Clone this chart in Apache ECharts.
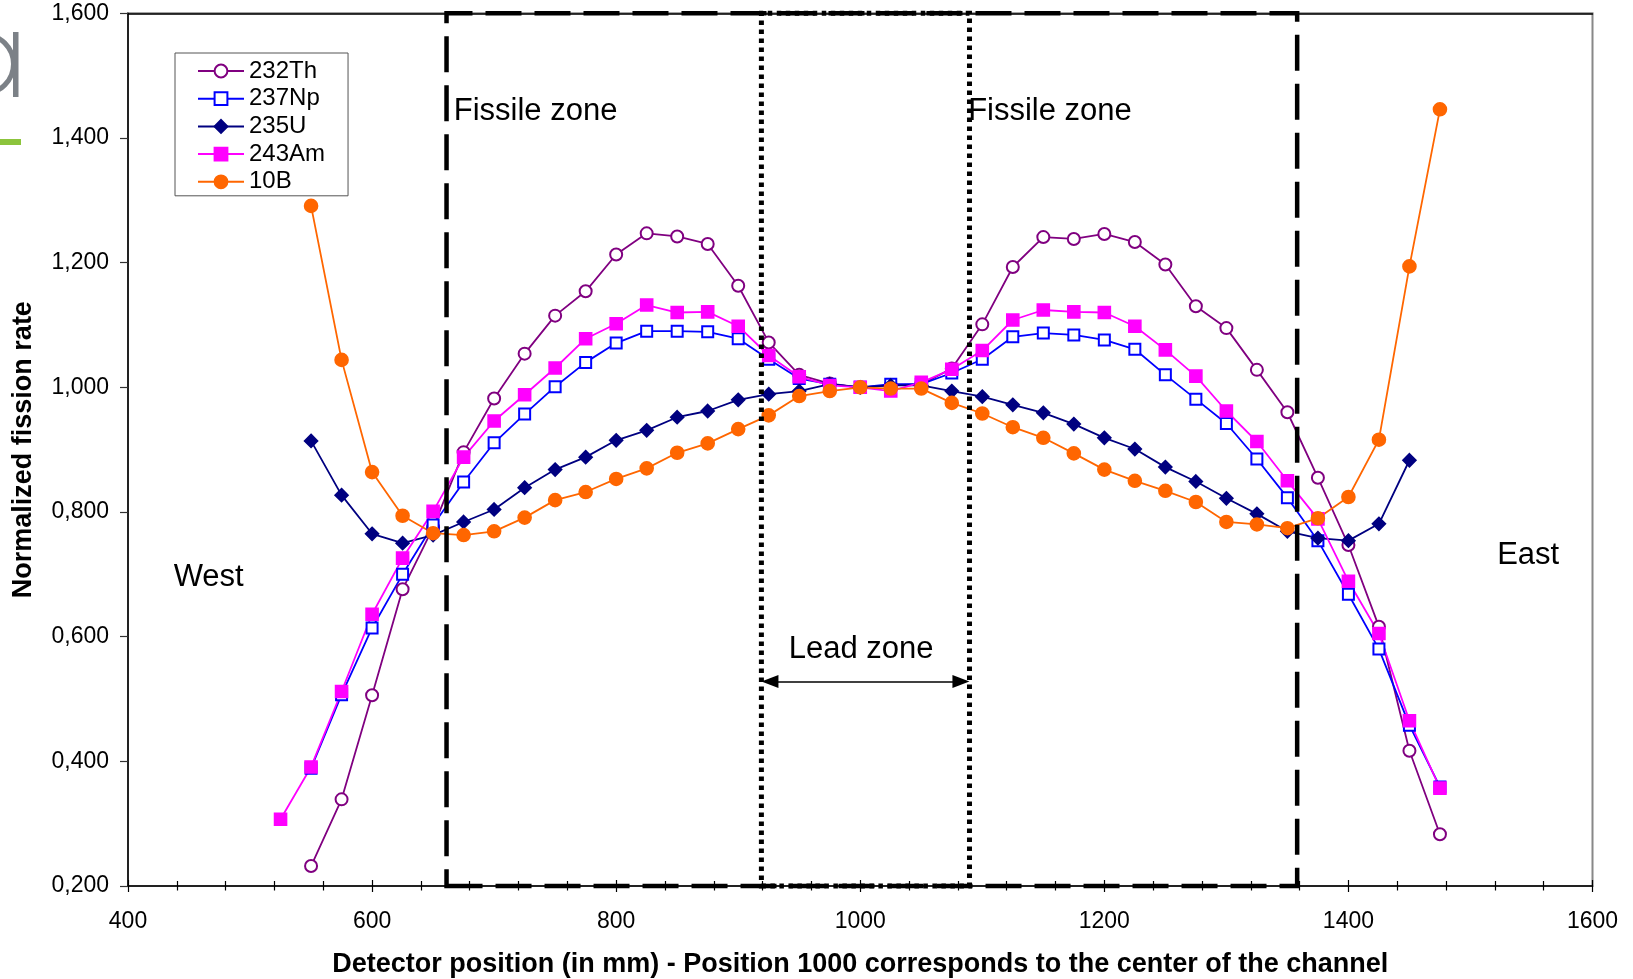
<!DOCTYPE html>
<html>
<head>
<meta charset="utf-8">
<title>Normalized fission rate</title>
<script src="https://cdn.jsdelivr.net/npm/echarts@6/dist/echarts.min.js"></script>
<style>
  html, body { margin: 0; padding: 0; background: #ffffff; }
  #chart { width: 1633px; height: 979px; }
</style>
</head>
<body>
<div id="chart"></div>
<script>
// Detector positions along the channel (mm)
const positions = [525, 550, 575, 600, 625, 650, 675, 700, 725, 750, 775, 800, 825, 850, 875,
  900, 925, 950, 975, 1000, 1025, 1050, 1075, 1100, 1125, 1150, 1175, 1200, 1225, 1250, 1275,
  1300, 1325, 1350, 1375, 1400, 1425, 1450, 1475];

// Normalized fission rates per detector type (null = no measurement)
const th232 = [null, 0.232, 0.339, 0.506, 0.676, 0.775, 0.896, 0.982, 1.054, 1.115, 1.154, 1.213,
  1.247, 1.242, 1.230, 1.163, 1.072, 1.020, 1.006, 1.000, 1.003, 1.005, 1.030, 1.101, 1.193, 1.241,
  1.238, 1.246, 1.233, 1.197, 1.130, 1.095, 1.028, 0.960, 0.855, 0.747, 0.616, 0.417, 0.283];
const np237 = [null, 0.389, 0.507, 0.614, 0.700, 0.779, 0.848, 0.911, 0.957, 1.001, 1.040, 1.071,
  1.090, 1.090, 1.089, 1.078, 1.045, 1.014, 1.005, 1.000, 1.005, 1.005, 1.023, 1.045, 1.081, 1.087,
  1.084, 1.076, 1.061, 1.020, 0.981, 0.942, 0.885, 0.823, 0.754, 0.668, 0.580, 0.458, 0.359];
const u235 = [null, 0.914, 0.827, 0.765, 0.750, 0.763, 0.784, 0.804, 0.839, 0.868, 0.888, 0.915,
  0.931, 0.952, 0.962, 0.980, 0.989, 0.994, 1.005, 1.000, 1.003, 1.003, 0.994, 0.985, 0.972, 0.959,
  0.941, 0.919, 0.901, 0.872, 0.849, 0.822, 0.797, 0.769, 0.758, 0.754, 0.781, 0.883, null];
const am243 = [0.307, 0.391, 0.512, 0.636, 0.726, 0.801, 0.888, 0.946, 0.988, 1.031, 1.078, 1.102,
  1.132, 1.120, 1.121, 1.098, 1.051, 1.017, 1.003, 1.000, 0.994, 1.008, 1.029, 1.059, 1.108, 1.124,
  1.121, 1.120, 1.098, 1.060, 1.018, 0.962, 0.913, 0.850, 0.789, 0.689, 0.605, 0.465, 0.357];
const b10 = [null, 1.291, 1.044, 0.864, 0.794, 0.766, 0.763, 0.769, 0.791, 0.819, 0.832, 0.853,
  0.870, 0.895, 0.910, 0.933, 0.955, 0.986, 0.994, 1.000, 0.998, 0.998, 0.975, 0.958, 0.936, 0.919,
  0.894, 0.868, 0.850, 0.834, 0.816, 0.784, 0.780, 0.774, 0.790, 0.824, 0.916, 1.194, 1.446];

const seriesNames = ['232Th', '237Np', '235U', '243Am', '10B'];

// Axis ranges
const xMin = 400, xMax = 1600, xStep = 200;
const yMin = 0.2, yMax = 1.6, yStep = 0.2;

// Zone boundaries (mm)
const fissileZone = [661, 1358];
const leadZone = [919, 1089.5];

// Text annotations: [label, x (mm), y (rate)]
const zoneLabels = [
  ['Fissile zone', 666.5, 1.443],
  ['Fissile zone', 1088, 1.443],
  ['Lead zone', 941, 0.580],
  ['West', 437, 0.695],
  ['East', 1521.5, 0.730]
];
const arrowY = 0.528;

const FONT = "'Liberation Sans', Arial, Helvetica, sans-serif";

function pairs(values) {
  const out = [];
  values.forEach((v, i) => { if (v !== null) out.push([positions[i], v]); });
  return out;
}

function lineSeries(name, values, color, symbol, size) {
  return {
    name: name,
    type: 'line',
    data: pairs(values),
    symbol: symbol,
    symbolSize: size,
    showAllSymbol: true,
    lineStyle: { color: color, width: 1.8 },
    itemStyle: { color: color, borderColor: color, borderWidth: 1.6 },
    emphasis: { disabled: true },
    z: 2
  };
}

const chart = echarts.init(document.getElementById('chart'), null, { renderer: 'canvas' });

const axisBlack = { color: '#000', width: 1.5 };

const option = {
  animation: false,
  backgroundColor: '#ffffff',
  textStyle: { fontFamily: FONT, color: '#000' },
  grid: {
    left: 128, right: 40.5, top: 13.3, bottom: 93,
    containLabel: false,
    outerBoundsMode: 'none',
    show: true,
    borderColor: '#888888',
    borderWidth: 2,
    backgroundColor: 'transparent'
  },
  legend: {
    data: seriesNames,
    orient: 'vertical',
    left: 175,
    top: 53,
    itemWidth: 46,
    itemHeight: 16,
    itemGap: 3.7,
    padding: [6, 23, 2, 22],
    borderColor: '#555555',
    borderWidth: 1,
    backgroundColor: '#ffffff',
    selectedMode: false,
    textStyle: { fontFamily: FONT, fontSize: 24, color: '#000' }
  },
  xAxis: [
    {
      type: 'value', min: xMin, max: xMax, interval: xStep, position: 'bottom',
      name: 'Detector position (in mm) - Position 1000 corresponds to the center of the channel',
      nameLocation: 'middle', nameGap: 65, nameMoveOverlap: false,
      nameTextStyle: { fontFamily: FONT, fontSize: 27, fontWeight: 'bold', color: '#000' },
      axisLine: { show: true, onZero: false, lineStyle: axisBlack },
      axisTick: { show: true, inside: false, length: 6, lineStyle: { color: '#000', width: 1.2 } },
      minorTick: { show: true, splitNumber: 5, length: 4.5, lineStyle: { color: '#000', width: 1.2 } },
      axisLabel: { margin: 24, fontFamily: FONT, fontSize: 23, color: '#000', formatter: v => String(v) },
      splitLine: { show: false },
      minorSplitLine: { show: false }
    },
    {
      type: 'value', min: xMin, max: xMax, interval: xStep, position: 'bottom',
      axisLine: { show: false, onZero: false },
      axisTick: { show: true, inside: true, length: 6, lineStyle: { color: '#000', width: 1.2 } },
      minorTick: { show: true, splitNumber: 5, length: 5, lineStyle: { color: '#000', width: 1.2 } },
      axisLabel: { show: false },
      splitLine: { show: false }
    },
    {
      type: 'value', min: xMin, max: xMax, interval: xStep, position: 'top',
      axisLine: { show: true, onZero: false, lineStyle: axisBlack },
      axisTick: { show: false },
      axisLabel: { show: false },
      splitLine: { show: false }
    }
  ],
  yAxis: {
    type: 'value', min: yMin, max: yMax, interval: yStep,
    name: 'Normalized fission rate',
    nameLocation: 'middle', nameGap: 91, nameMoveOverlap: false,
    nameTextStyle: { fontFamily: FONT, fontSize: 27, fontWeight: 'bold', color: '#000' },
    axisLine: { show: true, onZero: false, lineStyle: axisBlack },
    axisTick: { show: true, inside: false, length: 8, lineStyle: { color: '#333', width: 1.2 } },
    axisLabel: {
      margin: 19, fontFamily: FONT, fontSize: 23, color: '#000',
      formatter: v => v.toFixed(3).replace('.', ',')
    },
    splitLine: { show: false }
  },
  graphic: [
    { type: 'circle', shape: { cx: -16, cy: 64, r: 29.5 },
      style: { fill: 'none', stroke: '#7c8187', lineWidth: 5 }, silent: true },
    { type: 'rect', shape: { x: 13, y: 32, width: 5.5, height: 65 },
      style: { fill: '#7c8187' }, silent: true },
    { type: 'rect', shape: { x: 0, y: 139, width: 21, height: 6 },
      style: { fill: '#8cc43c' }, silent: true }
  ],
  series: [
    lineSeries(seriesNames[0], th232, '#800080', 'emptyCircle', 12),
    lineSeries(seriesNames[1], np237, '#0000ff', 'emptyRect', 11),
    lineSeries(seriesNames[2], u235, '#000080', 'diamond', 13),
    lineSeries(seriesNames[3], am243, '#ff00ff', 'rect', 12),
    lineSeries(seriesNames[4], b10, '#ff6600', 'circle', 13),
    {
      name: 'zones',
      type: 'line',
      data: [],
      silent: true,
      z: 4,
      markArea: {
        silent: true,
        z: 4,
        label: { show: false },
        emphasis: { disabled: true },
        data: [
          [
            { coord: [fissileZone[0], yMin],
              itemStyle: { color: 'rgba(0,0,0,0)', borderColor: '#000', borderWidth: 4.5, borderType: [36, 13] } },
            { coord: [fissileZone[1], yMax] }
          ],
          [
            { coord: [leadZone[0], yMin],
              itemStyle: { color: 'rgba(0,0,0,0)', borderColor: '#000', borderWidth: 5, borderType: [4.5, 4.5] } },
            { coord: [leadZone[1], yMax] }
          ]
        ]
      },
      markLine: {
        silent: true,
        z: 4,
        symbol: ['triangle', 'triangle'],
        symbolSize: [13, 17],
        label: { show: false },
        emphasis: { disabled: true },
        lineStyle: { color: '#000', width: 1.5, type: 'solid' },
        data: [
          [ { coord: [leadZone[0] + 7, arrowY] }, { coord: [leadZone[1] - 7, arrowY] } ]
        ]
      },
      markPoint: {
        silent: true,
        z: 4,
        symbol: 'circle',
        symbolSize: 1,
        itemStyle: { color: 'rgba(0,0,0,0)' },
        label: {
          show: true, position: 'right', distance: 0, formatter: '{b}',
          fontFamily: FONT, fontSize: 31, color: '#000'
        },
        emphasis: { disabled: true },
        data: zoneLabels.map(d => ({ name: d[0], coord: [d[1], d[2]] }))
      }
    }
  ]
};

chart.setOption(option);
</script>
</body>
</html>
